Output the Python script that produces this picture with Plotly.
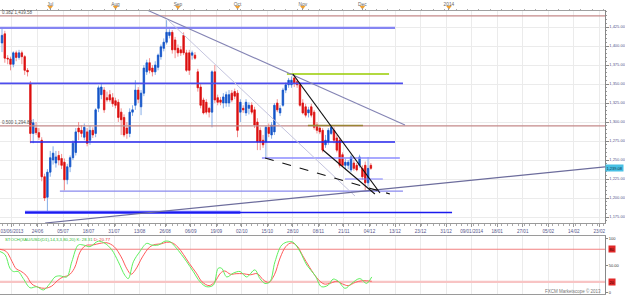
import plotly.graph_objects as go

# ---------------- data ----------------
opens = [1404,1416,1384,1383,1376,1391,1385,1391,1386,1368,1351,1285,1292,1286,1276,1228,1201,1234,1250,1246,
         1256,1252,1247,1224,1241,1253,1260,1292,1289,1280,1287,1276,1289,1285,1318,1336,1342,1332,1336,1332,
         1328,1326,1313,1306,1292,1285,1313,1322,1342,1320,1338,1366,1378,1371,1366,1372,1386,1397,1405,1414,
         1418,1408,1397,1395,1414,1391,1391,1388,1388,1366,1346,1329,1326,1318,1313,1366,1332,1329,1325,1325,
         1325,1338,1340,1338,1313,1318,1312,1318,1322,1316,1300,1289,1276,1274,1293,1283,1287,1325,1312,1322,
         1342,1349,1349,1358,1353,1349,1325,1320,1312,1320,1313,1296,1292,1289,1270,1274,1285,1289,1279,1276,
         1257,1243,1243,1237,1246,1243,1243,1239,1243,1220,1243]
highs = [1424,1420,1388,1386,1393,1394,1395,1394,1388,1371,1354,1304,1300,1292,1280,1232,1238,1262,1268,1262,
         1262,1258,1252,1245,1256,1276,1292,1300,1296,1298,1292,1295,1293,1318,1348,1350,1346,1340,1342,1338,
         1332,1330,1318,1310,1300,1318,1322,1355,1346,1342,1375,1382,1384,1375,1380,1390,1402,1410,1434,1422,
         1421,1412,1402,1400,1418,1395,1395,1394,1392,1370,1350,1332,1330,1320,1368,1375,1336,1333,1338,1340,
         1342,1342,1344,1342,1330,1322,1330,1326,1326,1320,1305,1293,1283,1295,1298,1300,1325,1330,1322,1345,
         1352,1358,1360,1362,1356,1352,1330,1324,1320,1324,1316,1300,1296,1292,1283,1292,1296,1293,1283,1279,
         1260,1252,1250,1257,1250,1246,1257,1243,1248,1254,1246]
lows = [1392,1378,1376,1368,1372,1380,1382,1376,1362,1360,1272,1272,1283,1276,1222,1196,1181,1228,1244,1240,
        1243,1238,1210,1218,1234,1250,1256,1276,1280,1276,1268,1270,1279,1280,1313,1330,1312,1326,1326,1320,
        1318,1300,1283,1280,1278,1280,1308,1316,1325,1309,1334,1362,1364,1360,1362,1368,1382,1393,1402,1410,
        1390,1384,1386,1387,1388,1366,1362,1382,1382,1340,1318,1310,1310,1306,1293,1325,1322,1322,1318,1320,
        1320,1326,1330,1280,1300,1312,1308,1310,1310,1292,1263,1263,1266,1253,1280,1278,1283,1313,1308,1320,
        1338,1345,1345,1346,1345,1320,1310,1306,1306,1306,1290,1285,1284,1260,1266,1270,1283,1272,1260,1240,
        1241,1238,1238,1234,1236,1235,1240,1224,1210,1215,1237]
closes = [1414,1384,1383,1376,1391,1385,1391,1386,1368,1366,1285,1299,1286,1280,1228,1200,1234,1253,1259,1254,
          1250,1243,1224,1241,1253,1272,1287,1287,1285,1293,1272,1289,1283,1316,1345,1346,1316,1329,1329,1324,
          1322,1306,1303,1283,1285,1313,1316,1342,1330,1338,1371,1378,1368,1366,1375,1388,1399,1405,1418,1418,
          1395,1395,1391,1391,1391,1368,1368,1391,1384,1345,1322,1312,1313,1313,1366,1329,1326,1326,1333,1336,
          1336,1329,1334,1289,1326,1316,1326,1322,1313,1296,1274,1274,1270,1293,1285,1296,1322,1316,1318,1342,
          1349,1355,1355,1351,1349,1322,1312,1309,1316,1309,1293,1289,1287,1263,1276,1289,1293,1276,1263,1243,
          1243,1247,1247,1254,1239,1237,1254,1228,1220,1239,1239]

date_labels = ["03/06/2013", "24/06", "05/07", "18/07", "31/07", "13/08", "26/08", "06/09", "19/09",
               "02/10", "15/10", "28/10", "08/11", "21/11", "04/12", "13/12", "23/12", "31/12",
               "09/01/2014", "18/01", "27/01", "05/02", "14/02", "23/02"]
month_labels = ["Jul", "Aug", "Sep", "Oct", "Nov", "Dec", "2014"]
month_bars = [17, 40, 62, 83, 106, 127, 157.5]

price_ticks = [1175, 1200, 1225, 1250, 1275, 1300, 1325, 1350, 1375, 1400, 1425]

fib_levels = [1439.58, 1294.84]
fib_texts = ["0.382 1,439.58", "0.500 1,294.84"]
last_price = 1239.08

# drawn lines: (bar0, bar1, price0, price1)
hlines_blue = [(-0.7, 138.5, 1424.0, 1424.0),
               (-0.7, 141.3, 1350.9, 1350.9),
               (9.9, 138.5, 1273.7, 1273.7),
               (91.6, 140.2, 1252.6, 1252.6),
               (20.4, 141.3, 1209.0, 1209.0),
               (120.9, 134.2, 1225.0, 1225.0)]
support_thick = (8.1, 84.0, 1181.0, 1181.0)
support_thin = (8.1, 158.6, 1181.0, 1181.0)
green_line = (100.4, 136.4, 1363.2, 1363.2)
olive_line = (107.8, 127.2, 1295.5, 1295.5)
trend_grey = (51.1, 142.0, 1447.4, 1296.1)
trend_light = (58.5, 124.4, 1434.2, 1202.6)
trend_rise = (15.2, 212.5, 1167.1, 1241.0)
wedge_top = (102.5, 133.2, 1363.2, 1206.6)
wedge_low = (113.1, 131.4, 1263.2, 1205.3)
wedge_dash = (92.7, 136.7, 1252.6, 1205.3)

stoch_k_bar = [-0.7,1.1,2.8,4,5.7,7.5,9.9,12.2,14.6,16.9,18.7,20.4,22.8,24.6,26.9,28.6,31,33.9,36.3,38.7,
               41,43.3,44.5,46.3,48.6,51,52.7,55.1,57.4,59.2,61,63.3,65.1,67.4,69.8,72.1,74.5,76.2,77.4,79.2,
               81.5,83.9,86.2,89.1,90.9,92.7,94.4,96.2,98.6,100.9,102.6,105,107.4,110.3,112.6,115,116.7,118.5,
               120.9,123.2,126.1,128.5,130.3]
stoch_k = [76,70,45,39,39,26,9,11,5,17,29,31,29,57,88,88,85,95,91,79,
           57,32,26,57,76,91,88,88,95,94,85,70,57,39,20,11,14,45,45,29,
           36,39,29,42,26,17,20,57,88,94,93,76,51,32,11,14,25,21,
           8,17,26,17,29]
stoch_d_bar = [-0.7,1.5,3.5,5,6.5,8.5,10.5,12.8,15,17.5,19.5,21.5,23.5,25.5,27.5,29.5,32,34.5,37,39.5,
               42,44,45.5,47,49.5,52,54,56,58,60,62,64,66,68.5,70.5,73,75,77,78.5,80.5,
               82.5,85,87.5,90,92,94,96,98,100,102,104,106,108.5,111,113.5,116,118,120,122,124.5,127,130.3]
stoch_d = [80,76,58,44,40,32,16,10,8,12,22,29,32,45,75,87,88,91,92,85,
           66,44,34,42,66,84,89,90,93,92,84,70,54,36,20,13,20,36,40,34,
           35,35,33,35,24,19,33,64,85,92,86,68,46,27,16,18,21,16,13,19,22,21]
stoch_levels = [80, 20]

# ---------------- figure ----------------
W, H = 625, 296
bars = list(range(len(opens)))
X0, X1 = -0.705, 212.5
XD = 605 / W
main_dom = [1 - 223 / H, 1 - 10 / H]
st_dom = [1 - 294 / H, 1 - 236 / H]
FONT = "Liberation Sans"
AX = "#55558a"

fig = go.Figure()

# candles: light wicks (full range) then strong bodies (open/close only) on top
fig.add_trace(go.Candlestick(
    x=bars, open=opens, high=highs, low=lows, close=closes,
    increasing=dict(line=dict(color="#86aee8", width=1), fillcolor="#86aee8"),
    decreasing=dict(line=dict(color="#f29090", width=1), fillcolor="#f29090"),
    whiskerwidth=0, showlegend=False, hoverinfo="skip"))
body_hi = [max(o, c) for o, c in zip(opens, closes)]
body_lo = [min(o, c) for o, c in zip(opens, closes)]
fig.add_trace(go.Candlestick(
    x=bars, open=opens, high=body_hi, low=body_lo, close=closes,
    increasing=dict(line=dict(color="#1454c8", width=0.6), fillcolor="#1454c8"),
    decreasing=dict(line=dict(color="#dc1010", width=0.6), fillcolor="#dc1010"),
    whiskerwidth=0, showlegend=False, hoverinfo="skip"))


def seg(s, color, width, dash="solid", xa="x", ya="y"):
    fig.add_trace(go.Scatter(x=[s[0], s[1]], y=[s[2], s[3]], mode="lines",
                             line=dict(color=color, width=width, dash=dash),
                             xaxis=xa, yaxis=ya, showlegend=False, hoverinfo="skip"))


for lv in fib_levels:
    seg((X0, X1, lv, lv), "#c48a8a", 1.3)
seg(olive_line, "#9a8434", 1.6)
blue_styles = [("#8585f2", 2.2), ("#4d4dee", 1.8), ("#2424ee", 1.6), ("#8c8cff", 1.4),
               ("#8a8aee", 1.4), ("#7c7cff", 1.1)]
for s, (c, w) in zip(hlines_blue, blue_styles):
    seg(s, c, w)
seg(support_thick, "#6a6aff", 3.2)
seg(support_thin, "#1a1aee", 1.5)
seg(green_line, "#99cc00", 1.6)
seg(trend_grey, "#8484b4", 1.1)
seg(trend_light, "#c4c4de", 1.0)
seg(trend_rise, "#6c6c9c", 1.2)
seg(wedge_top, "#111111", 1.2)
seg(wedge_low, "#111111", 1.1)
seg(wedge_dash, "#111111", 1.1, dash="dash")

# stochastic panel
for lv, c, w in zip(stoch_levels, ["#f28080", "#f8c4c4"], [1.1, 2.2]):
    seg((X0, X1, lv, lv), c, w, xa="x2", ya="y2")
fig.add_trace(go.Scatter(x=stoch_d_bar, y=stoch_d, mode="lines", line=dict(color="#ff5a5a", width=1, shape="spline"),
                         xaxis="x2", yaxis="y2", showlegend=False, hoverinfo="skip"))
fig.add_trace(go.Scatter(x=stoch_k_bar, y=stoch_k, mode="lines", line=dict(color="#5ef05e", width=1, shape="spline"),
                         xaxis="x2", yaxis="y2", showlegend=False, hoverinfo="skip"))

# month markers on top axis
fig.add_trace(go.Scatter(x=month_bars, y=[0.3] * len(month_bars), mode="markers",
                         marker=dict(symbol="triangle-down", size=5, color="#f0a030"),
                         xaxis="x3", yaxis="y3", showlegend=False, hoverinfo="skip"))

date_vals = [3.5 + 9 * k for k in range(len(date_labels))]

fig.update_layout(
    width=W, height=H, margin=dict(l=0, r=0, t=0, b=0),
    paper_bgcolor="white", plot_bgcolor="white",
    font=dict(family=FONT, size=5, color=AX),
    boxmode="overlay",
    xaxis=dict(domain=[0, XD], range=[X0, X1], anchor="y", tickmode="array", tickvals=date_vals,
               ticktext=date_labels, tickfont=dict(size=4.6, color=AX), ticks="outside", ticklen=3,
               tickcolor="#999", showgrid=True, gridcolor="#ebebeb", gridwidth=1, showline=True,
               linecolor="#9a9a9a", zeroline=False, rangeslider=dict(visible=False),
               minor=dict(ticks="outside", ticklen=1.5, tickcolor="#aaa", tickmode="linear", tick0=0, dtick=2,
                          showgrid=False)),
    yaxis=dict(domain=main_dom, range=[1167.1, 1447.4], side="right", anchor="x", tickmode="array",
               tickvals=price_ticks, ticktext=[f"{v:,.2f}" for v in price_ticks],
               tickfont=dict(size=4, color=AX), ticks="outside", ticklen=2.5, tickcolor="#888",
               showgrid=True, gridcolor="#ebebeb", showline=True, linecolor="#888", zeroline=False,
               minor=dict(ticks="outside", ticklen=1.2, tickcolor="#999", dtick=5, showgrid=False)),
    xaxis2=dict(domain=[0, XD], range=[X0, X1], anchor="y2", matches="x", tickmode="array",
                tickvals=date_vals, showticklabels=False, ticks="", showgrid=True, gridcolor="#ebebeb",
                showline=True, linecolor="#9a9a9a", mirror=True, zeroline=False),
    yaxis2=dict(domain=st_dom, range=[-2.5, 104.6], side="right", anchor="x2", tickmode="array",
                tickvals=[0, 50, 100], ticktext=["0", "50.00", "100"], tickfont=dict(size=4, color="#333"),
                ticks="outside", ticklen=2, tickcolor="#888", showgrid=False, showline=True,
                linecolor="#888", zeroline=False),
    xaxis3=dict(overlaying="x", side="top", anchor="free", position=main_dom[1], matches="x",
                range=[X0, X1], tickmode="array", tickvals=month_bars, ticktext=month_labels,
                tickfont=dict(size=4.8, color="#666"), ticks="outside", ticklen=2, tickcolor="#999",
                showgrid=False, showline=True, linecolor="#a0a0a0", zeroline=False,
                minor=dict(ticks="outside", ticklen=1.5, tickcolor="#aaa", tickmode="linear", tick0=0, dtick=4)),
    yaxis3=dict(domain=[main_dom[1], 1], range=[0, 1], anchor="x3", visible=False),
)

ann = []
for lv, t in zip(fib_levels, fib_texts):
    ann.append(dict(x=X0, y=lv, xref="x", yref="y", text=t, showarrow=False, xanchor="left",
                    yanchor="bottom", yshift=-1, font=dict(size=4.5, color="#555")))
ann.append(dict(x=XD, y=last_price, xref="paper", yref="y", text=f"{last_price:,.2f}", showarrow=False,
                xanchor="left", yanchor="middle", bgcolor="#48c0e4", borderpad=0.5,
                font=dict(size=4, color="#12324a")))
for lv in stoch_levels:
    ann.append(dict(x=XD, y=lv, xref="paper", yref="y2", text=f"{lv}", showarrow=False, xanchor="left",
                    xshift=3, yanchor="middle", bgcolor="#e02828", borderpad=0.5,
                    font=dict(size=4, color="#400000")))
ann.append(dict(x=0.004, y=1 - 239.5 / H, xref="paper", yref="paper", showarrow=False, xanchor="left",
                yanchor="middle",
                text="<span style='color:#33bb33'>STOCH(XAU/USD(D1),14,3,3,80,20) K: 28.31</span>"
                     " <span style='color:#e03030'>D: 20.77</span>",
                font=dict(size=4.3)))
ann.append(dict(x=XD - 0.003, y=1 - 290.5 / H, xref="paper", yref="paper", showarrow=False,
                xanchor="right", yanchor="middle", text="FXCM Marketscope © 2013",
                font=dict(size=4.5, color="#777")))
fig.update_layout(annotations=ann)

fig.write_html("out.html")
